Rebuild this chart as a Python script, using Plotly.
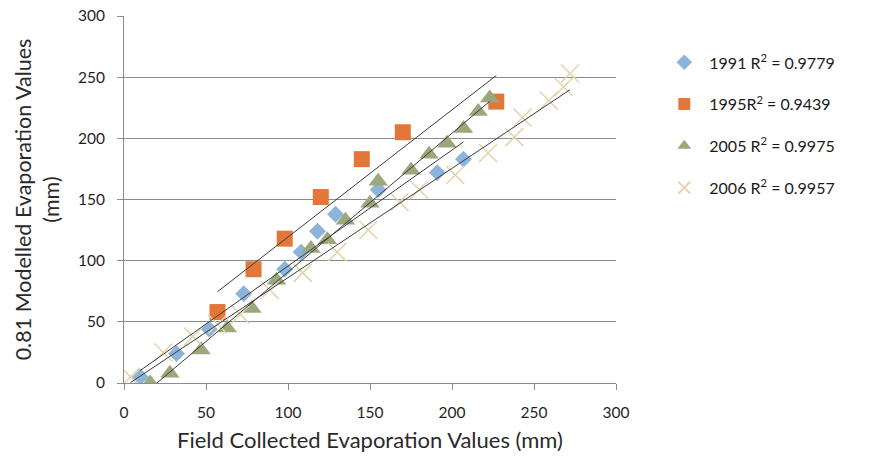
import numpy as np
import plotly.graph_objects as go

# ---- data ----
x1991 = [10, 32, 52, 73, 98, 108, 118, 129, 155, 191, 207]
y1991 = [5, 24, 44, 73, 93, 107, 124, 138, 158, 172, 183]

x1995 = [57, 79, 98, 120, 145, 170, 227]
y1995 = [58, 93, 118, 152, 183, 205, 230]

x2005 = [16, 28, 47, 63, 78, 93, 114, 124, 135, 150, 155, 175, 186, 197, 207, 216, 223]
y2005 = [0, 8, 27, 45, 61, 84, 110, 117, 133, 147, 165, 174, 187, 196, 208, 222, 233]

x2006 = [4, 24, 42, 57, 71, 89, 109, 130, 149, 168, 180, 202, 222, 238, 243, 259, 268, 272]
y2006 = [5, 25, 38, 48, 56, 76, 90, 107, 125, 148, 158, 170, 188, 201, 217, 231, 242, 253]

names = ["1991 R<sup>2</sup> = 0.9779", "1995R<sup>2</sup> = 0.9439",
         "2005 R<sup>2</sup> = 0.9975", "2006 R<sup>2</sup> = 0.9957"]

x_ticks = [0, 50, 100, 150, 200, 250, 300]
y_ticks = [0, 50, 100, 150, 200, 250, 300]

series = [
    (x1991, y1991, names[0], "diamond", "#8fb4dc", 13),
    (x1995, y1995, names[1], "square", "#e3773a", 16),
    (x2005, y2005, names[2], "triangle-up", "#9ca77c", 17),
    (x2006, y2006, names[3], "x-thin", "#e3d3aa", 18),
]

fig = go.Figure()
for i, (xs, ys, name, sym, col, sz) in enumerate(series):
    if sym == "x-thin":
        marker = dict(symbol=sym, size=sz, line=dict(color=col, width=1.5), color=col)
    else:
        marker = dict(symbol=sym, size=sz, color=col, line=dict(width=0))
    fig.add_trace(go.Scatter(x=xs, y=ys, mode="markers", name=name, marker=marker,
                             legendgroup=f"g{i}", legendrank=i + 1))

# linear trendlines computed from each series
for i, (xs, ys, name, sym, col, sz) in enumerate(series):
    a, b = np.polyfit(xs, ys, 1)
    xx = np.array([min(xs), max(xs)])
    fig.add_trace(go.Scatter(x=xx, y=a * xx + b, mode="lines", showlegend=False,
                             line=dict(color="#3a3a3a", width=1), hoverinfo="skip"))

fig.update_layout(
    width=870, height=462,
    margin=dict(l=124, r=254, t=16, b=79, autoexpand=False),
    paper_bgcolor="white", plot_bgcolor="white",
    font=dict(family="Lato, Open Sans, sans-serif", color="#262626", size=15),
    showlegend=True,
    legend=dict(x=1.088, y=0.92, xanchor="left", yanchor="top",
                font=dict(size=16, color="#1a1a1a"), tracegroupgap=18,
                itemwidth=40, itemsizing="constant", bgcolor="rgba(0,0,0,0)"),
)
fig.update_xaxes(range=[0, 300], tickvals=x_ticks, showgrid=False, zeroline=False,
                 automargin=False,
                 showline=True, linecolor="#8c8c8c", linewidth=1,
                 ticks="outside", ticklen=6, tickcolor="#8c8c8c",
                 ticklabelstandoff=9,
                 tickfont=dict(size=15.5, color="#1f1f1f"),
                 title=dict(text="Field Collected Evaporation Values (mm)",
                            font=dict(size=22, color="#2a2a2a"), standoff=13))
fig.update_yaxes(range=[0, 300], tickvals=y_ticks, showgrid=True, gridcolor="#8c8c8c",
                 automargin=False,
                 gridwidth=1, zeroline=False, showline=True, linecolor="#8c8c8c",
                 linewidth=1, ticks="outside", ticklen=6, tickcolor="#8c8c8c",
                 ticklabelstandoff=9,
                 tickfont=dict(size=15.5, color="#1f1f1f"),
                 title=dict(text="0.81 Modelled Evaporation Values<br>(mm)",
                            font=dict(size=21.5, color="#2a2a2a"), standoff=12))

fig.write_html("out.html")
